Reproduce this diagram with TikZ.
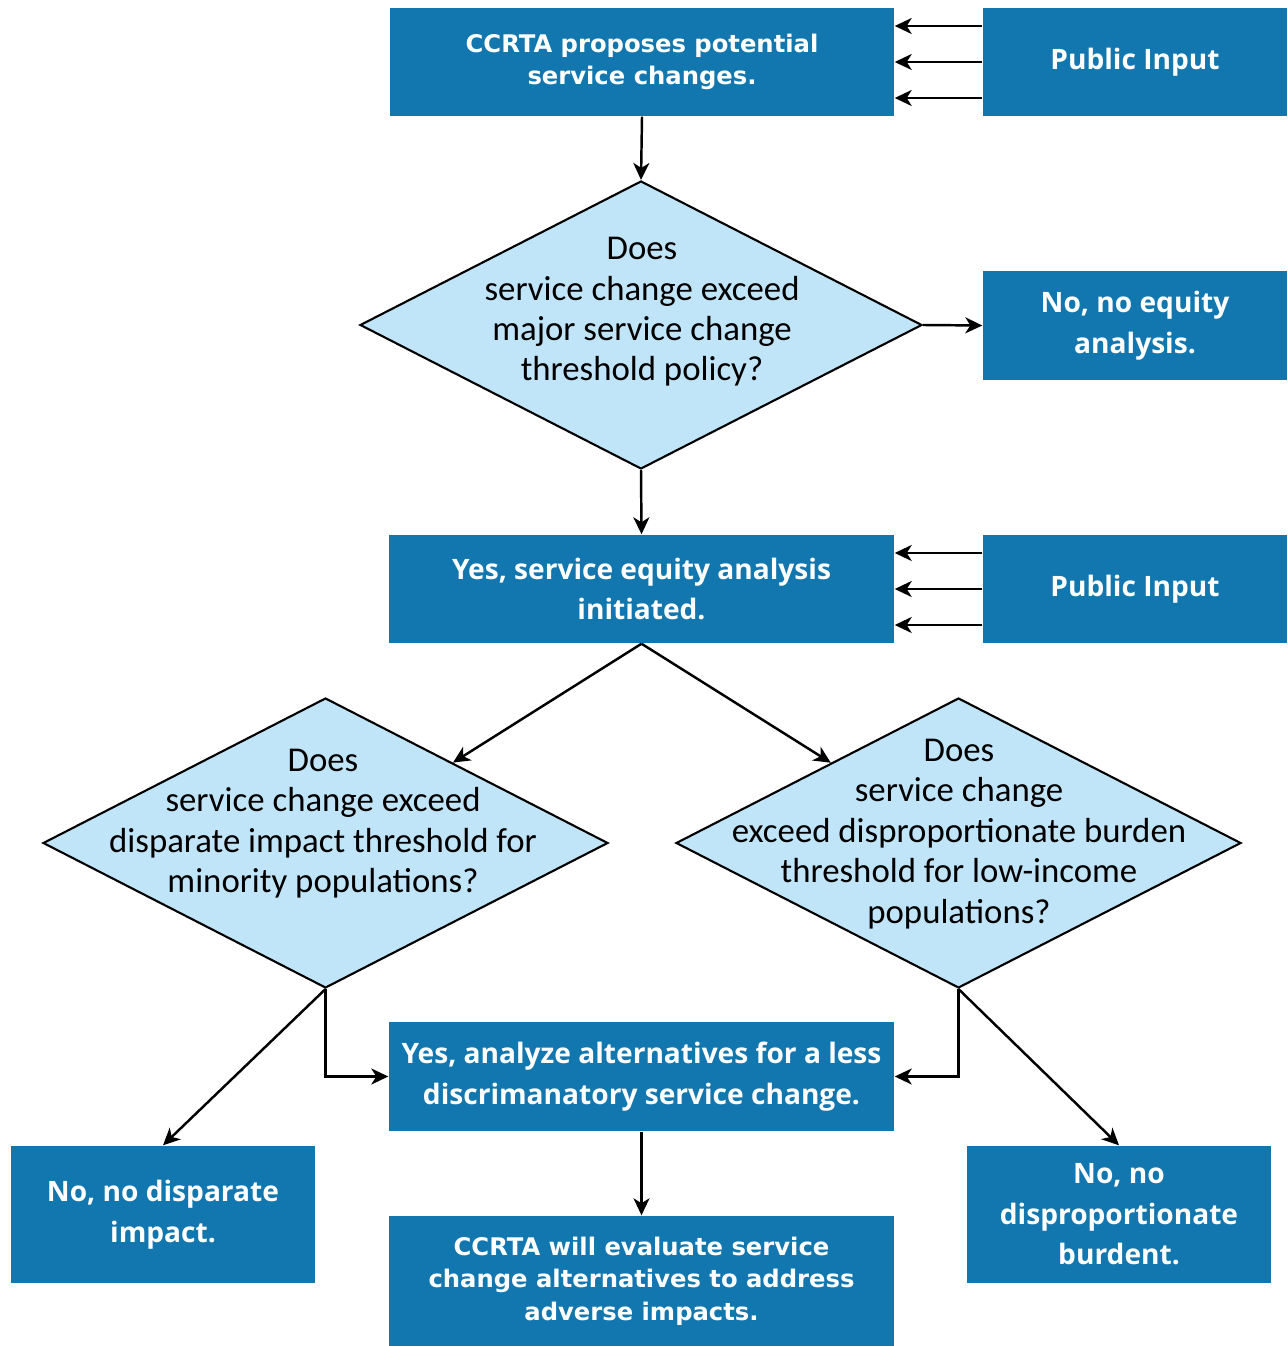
\documentclass[tikz,border=0pt]{standalone}
\usepackage{fontspec}
\setmainfont{Open Sans}
\newfontfamily\calfont{Carlito}
\newfontfamily\wideboxfont{DejaVu Sans}
\usetikzlibrary{shapes.geometric,arrows.meta}
\definecolor{boxblue}{RGB}{18,119,174}
\definecolor{diafill}{RGB}{192,228,248}
\tikzset{
  bluebox/.style={fill=boxblue, text=white, align=center, inner sep=0pt,
    font={\fontsize{8pt}{11.5pt}\selectfont\bfseries}},
  ccrtabox/.style={bluebox, font={\wideboxfont\fontsize{6.9pt}{9.3pt}\selectfont\bfseries}},
  decision/.style={diamond, draw=black, line width=0.6pt, fill=diafill, inner sep=0pt},
  dtext/.style={align=center, inner sep=0pt, font={\calfont\fontsize{9.9pt}{11.5pt}\selectfont}},
  flow/.style={draw=black, line width=0.7pt, -{Stealth[length=1.7mm,width=1.6mm,inset=0.5mm]}}}

\begin{document}
\begin{tikzpicture}
\useasboundingbox (0,0) rectangle (12.87,-13.46);
\node[ccrtabox, minimum width=5.04cm, minimum height=1.08cm] (propose) at (6.42,-0.62) {CCRTA proposes potential\\service changes.};
\node[bluebox, minimum width=3.04cm, minimum height=1.08cm] (input1) at (11.35,-0.62) {Public Input};
\node[decision, minimum width=5.62cm, minimum height=2.88cm] (major) at (6.41,-3.25) {};
\node[dtext] (majortxt) at (6.42,-3.12) {Does\\service change exceed\\major service change\\threshold policy?};
\node[bluebox, minimum width=3.04cm, minimum height=1.09cm] (noequity) at (11.35,-3.255) {No, no equity\\analysis.};
\node[bluebox, minimum width=5.05cm, minimum height=1.08cm] (equity) at (6.415,-5.89) {Yes, service equity analysis\\initiated.};
\node[bluebox, minimum width=3.04cm, minimum height=1.08cm] (input2) at (11.35,-5.89) {Public Input};
\node[decision, minimum width=5.65cm, minimum height=2.90cm] (minority) at (3.255,-8.43) {};
\node[dtext] (minoritytxt) at (3.23,-8.235) {Does\\service change exceed\\disparate impact threshold for\\minority populations?};
\node[decision, minimum width=5.65cm, minimum height=2.90cm] (lowincome) at (9.585,-8.43) {};
\node[dtext] (lowincometxt) at (9.59,-8.34) {Does\\service change\\exceed disproportionate burden\\threshold for low-income\\populations?};
\node[bluebox, minimum width=5.05cm, minimum height=1.09cm] (alternatives) at (6.415,-10.765) {Yes, analyze alternatives for a less\\discrimanatory service change.};
\node[bluebox, minimum width=3.04cm, minimum height=1.37cm] (nodisparate) at (1.63,-12.145) {No, no disparate\\impact.};
\node[bluebox, minimum width=3.04cm, minimum height=1.37cm] (noburden) at (11.19,-12.145) {No, no\\disproportionate\\burdent.};
\node[ccrtabox, minimum width=5.05cm, minimum height=1.30cm] (evaluate) at (6.415,-12.81) {CCRTA will evaluate service\\change alternatives to address\\adverse impacts.};
\foreach \dy in {-0.36,0,0.36} {
  \draw[flow] ([yshift=\dy cm]input1.west) -- ([yshift=\dy cm]propose.east);
  \draw[flow] ([yshift=\dy cm]input2.west) -- ([yshift=\dy cm]equity.east);
}
\draw[flow] (propose.south) -- (major.north);
\draw[flow] (major.east) -- (noequity.west);
\draw[flow] (major.south) -- (equity.north);
\draw[flow] (equity.south) -- (minority);
\draw[flow] (equity.south) -- (lowincome);
\draw[flow] (minority.south) |- (alternatives.west);
\draw[flow] (lowincome.south) |- (alternatives.east);
\draw[flow] (minority.south) -- (nodisparate.north);
\draw[flow] (lowincome.south) -- (noburden.north);
\draw[flow] (alternatives.south) -- (evaluate.north);
\end{tikzpicture}
\end{document}
